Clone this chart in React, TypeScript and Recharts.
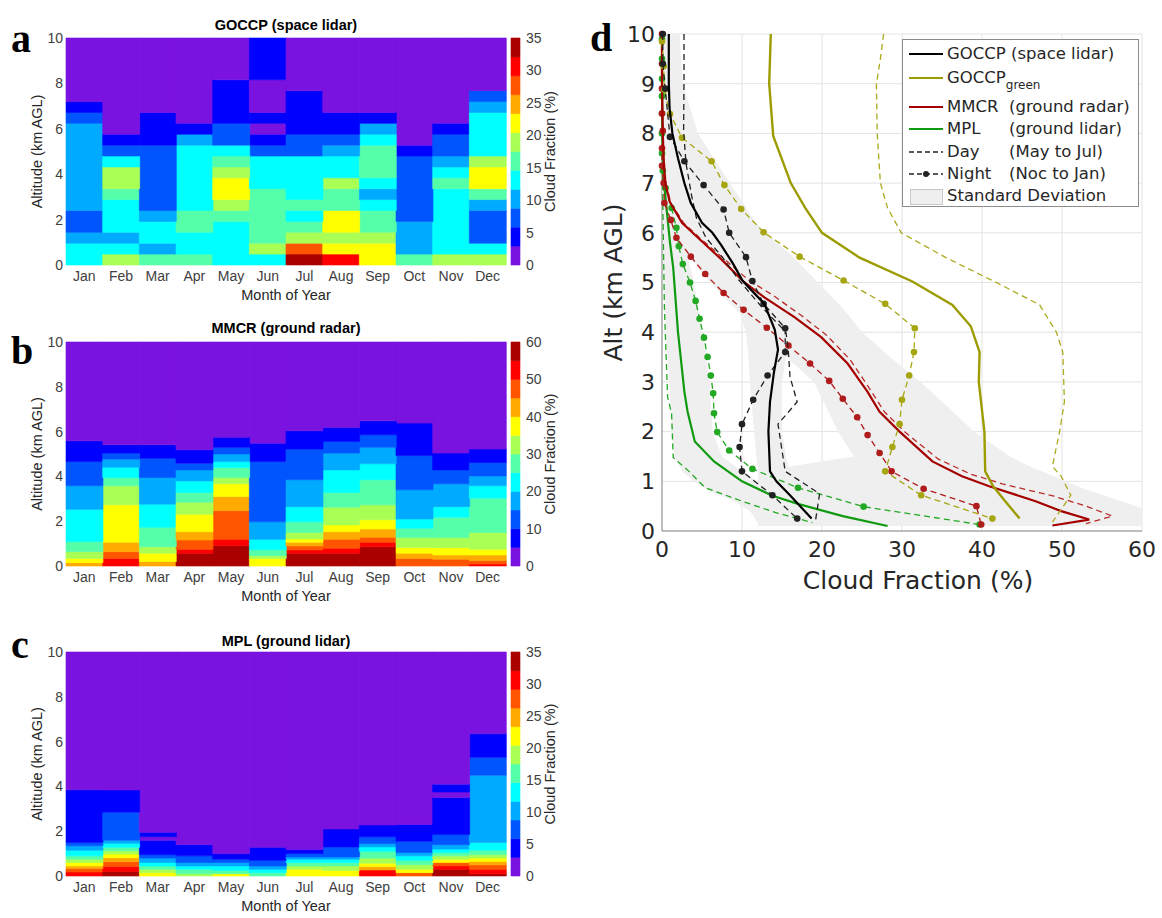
import { Bar, BarChart, CartesianGrid, Cell, Label, Legend, Scatter, ScatterChart, XAxis, YAxis } from "recharts"

const MONTHS = ["Jan", "Feb", "Mar", "Apr", "May", "Jun", "Jul", "Aug", "Sep", "Oct", "Nov", "Dec"]
const JET = ["#7a12e0", "#0000ff", "#0055ff", "#00aaff", "#00ffff", "#55ffaa", "#aaff55", "#ffff00", "#ffaa00", "#ff5500", "#ff0000", "#aa0000"]
const ALT_TICKS = [0, 2, 4, 6, 8, 10]
const CB_TICKS_35 = [0, 5, 10, 15, 20, 25, 30, 35]
const CB_TICKS_60 = [0, 10, 20, 30, 40, 50, 60]

// each month: [layer top (km), cloud fraction (%)], purple fills the rest up to 10 km
const GOCCP_COLS = [
  [[0.96, 13], [1.44, 10], [2.4, 7], [6.24, 10], [6.72, 7], [7.2, 4]],
  [[0.48, 19], [0.96, 13], [1.44, 10], [2.88, 13], [3.36, 16], [4.32, 19], [4.8, 13], [5.28, 7], [5.76, 4]],
  [[0.48, 16], [0.96, 10], [1.92, 13], [2.4, 10], [5.28, 7], [6.72, 4]],
  [[0.48, 16], [1.44, 13], [2.4, 16], [5.28, 13], [5.76, 10], [6.24, 4]],
  [[1.92, 13], [2.4, 16], [2.88, 19], [3.84, 22], [4.32, 19], [4.8, 16], [5.28, 13], [6.24, 7], [8.16, 4]],
  [[0.48, 13], [0.96, 19], [3.36, 16], [4.8, 13], [5.28, 7], [5.76, 4], [6.24, 1], [6.72, 4], [8.16, 1], [10, 4]],
  [[0.48, 34], [0.96, 28], [1.44, 19], [1.92, 16], [2.4, 13], [2.88, 16], [4.8, 13], [5.76, 7], [7.68, 4]],
  [[0.48, 31], [0.96, 22], [1.44, 19], [2.4, 22], [3.36, 16], [3.84, 19], [4.8, 13], [5.28, 10], [5.76, 7], [6.72, 4]],
  [[0.96, 22], [1.44, 19], [2.4, 16], [2.88, 13], [3.36, 10], [3.84, 13], [5.28, 16], [5.76, 13], [6.24, 10], [6.72, 4]],
  [[0.48, 16], [1.92, 10], [4.8, 7], [5.28, 4]],
  [[0.48, 19], [3.36, 13], [3.84, 16], [4.32, 13], [4.8, 10], [5.76, 7], [6.24, 4]],
  [[0.48, 19], [0.96, 13], [2.4, 7], [2.88, 10], [3.36, 16], [4.32, 22], [4.8, 19], [6.72, 13], [7.2, 10], [7.68, 7]],
]

const MMCR_COLS = [
  [[0.15, 42], [0.34, 37], [0.64, 32], [1.09, 27], [2.53, 22], [3.58, 17], [4.66, 12], [5.59, 7]],
  [[0.34, 52], [0.64, 47], [1.06, 42], [2.73, 37], [3.58, 32], [3.95, 27], [4.41, 22], [4.77, 17], [5.04, 12], [5.41, 7]],
  [[0.2, 42], [0.57, 37], [0.86, 32], [1.73, 27], [2.76, 22], [3.95, 17], [4.81, 12], [5.41, 7]],
  [[0.57, 57], [0.75, 52], [1.16, 47], [1.53, 42], [2.31, 37], [2.85, 32], [3.28, 27], [3.8, 22], [4.29, 17], [4.59, 12], [5.19, 7]],
  [[0.91, 57], [1.19, 52], [2.47, 47], [3.1, 42], [3.67, 37], [3.95, 32], [4.4, 27], [4.66, 22], [5.0, 17], [5.3, 12], [5.75, 7]],
  [[0.34, 37], [0.46, 32], [0.72, 27], [1.19, 22], [1.97, 17], [4.66, 12], [5.48, 7]],
  [[0.57, 57], [0.72, 52], [0.89, 47], [1.06, 42], [1.21, 37], [1.5, 32], [1.97, 27], [2.65, 22], [3.85, 17], [5.22, 12], [6.04, 7]],
  [[0.57, 57], [0.79, 52], [1.19, 47], [1.53, 42], [1.83, 37], [2.62, 32], [3.28, 27], [4.29, 22], [5.04, 17], [5.56, 12], [6.18, 7]],
  [[0.86, 57], [1.06, 52], [1.28, 47], [1.65, 42], [2.06, 37], [2.73, 32], [3.85, 27], [4.56, 22], [5.3, 17], [5.86, 12], [6.48, 7]],
  [[0.34, 47], [0.57, 42], [0.83, 37], [1.27, 32], [1.68, 27], [2.1, 22], [3.4, 17], [4.93, 12], [6.38, 7]],
  [[0.3, 47], [0.49, 42], [0.82, 37], [1.27, 32], [2.18, 27], [2.65, 22], [3.67, 17], [4.29, 12], [5.04, 7]],
  [[0.09, 52], [0.24, 47], [0.49, 42], [0.75, 37], [1.5, 32], [3.03, 27], [3.58, 22], [4.02, 17], [4.62, 12], [5.22, 7]],
]

const MPL_COLS = [
  [[0.18, 31], [0.33, 28], [0.45, 25], [0.6, 22], [0.75, 19], [0.9, 16], [1.15, 13], [1.35, 10], [1.5, 7], [3.85, 4]],
  [[0.2, 34], [0.42, 31], [0.64, 28], [0.82, 25], [0.98, 22], [1.13, 19], [1.28, 16], [1.46, 13], [1.6, 10], [2.85, 7], [3.84, 4]],
  [[0.15, 22], [0.3, 19], [0.45, 16], [0.6, 13], [0.8, 10], [0.95, 7], [1.6, 4], [1.75, 1], [1.95, 4]],
  [[0.1, 19], [0.3, 16], [0.45, 13], [0.6, 10], [0.9, 7], [1.4, 4]],
  [[0.1, 22], [0.25, 16], [0.45, 13], [0.6, 10], [0.75, 7], [1.0, 4]],
  [[0.15, 16], [0.3, 13], [0.45, 10], [0.7, 7], [1.28, 4]],
  [[0.3, 22], [0.45, 19], [0.6, 16], [0.75, 13], [0.85, 10], [1.0, 7], [1.18, 4]],
  [[0.25, 22], [0.45, 19], [0.6, 16], [0.75, 13], [0.85, 10], [1.3, 7], [2.1, 4]],
  [[0.27, 31], [0.42, 25], [0.57, 22], [0.8, 19], [1.1, 16], [1.3, 13], [1.45, 10], [1.75, 7], [2.28, 4]],
  [[0.15, 28], [0.3, 22], [0.5, 19], [0.7, 16], [0.9, 13], [1.05, 10], [1.55, 7], [2.3, 4]],
  [[0.3, 34], [0.45, 31], [0.6, 28], [0.75, 22], [0.9, 19], [1.05, 16], [1.2, 13], [1.4, 10], [1.85, 7], [3.5, 4], [3.75, 1], [4.1, 4]],
  [[0.1, 34], [0.3, 31], [0.5, 28], [0.65, 25], [0.8, 22], [0.95, 19], [1.15, 16], [1.5, 13], [4.5, 10], [5.3, 7], [6.35, 4]],
]

// panel d profiles: [cloud fraction (%), altitude (km)]
const GOCCP_MEAN = [[0.85, 10], [0.85, 9], [0.95, 8.5], [1.3, 8], [2, 7.5], [2.8, 7], [3.6, 6.6], [5, 6.2], [6.3, 6], [7.4, 5.75], [8.8, 5.4], [10.1, 5.03], [12.8, 4.57], [14.1, 4.05], [14.5, 3.65], [14, 3.2], [13.5, 2.6], [13.3, 2], [13.5, 1.2], [14.3, 1], [16, 0.72], [18.7, 0.25]]
const GOCCP_DAY = [[2.75, 10], [2.75, 9], [2.7, 8.05], [3, 7.4], [3.7, 6.75], [4.3, 6.3], [5.5, 5.9], [7.6, 5.5], [9.6, 5.05], [12.5, 4.5], [15.5, 4], [15.8, 3.6], [16, 3.1], [16.9, 2.6], [14.5, 2.15], [15.4, 1.2], [19.7, 0.75], [19.2, 0.22]]
const GOCCP_NIGHT = [[0.1, 10], [0.1, 9.4], [0.4, 8.9], [1, 7.93], [2.8, 7.44], [5.2, 6.96], [7.7, 6.47], [8.4, 6], [10.5, 5.51], [11.3, 5.03], [12.7, 4.57], [15.4, 4.08], [15.4, 3.6], [13.2, 3.13], [11.4, 2.64], [10, 2.15], [9.7, 1.69], [10, 1.2], [13.8, 0.72], [16.9, 0.25]]
const GREEN_MEAN = [[13.6, 10], [13.4, 9], [13.9, 7.95], [16.1, 7], [17.9, 6.5], [20, 6], [24.7, 5.5], [31.3, 5.02], [36.3, 4.55], [38.6, 4.12], [39.7, 3.6], [39.6, 3], [40.3, 2], [40.4, 1.2], [41.4, 0.9], [42.9, 0.6], [44.7, 0.25]]
const GREEN_DAY = [[27.7, 10], [27.3, 9.5], [26.8, 9], [26.9, 8], [27.3, 7], [28.2, 6.5], [29.9, 6], [35.5, 5.5], [41.8, 5], [47.2, 4.55], [49.3, 4], [50.1, 3.6], [50.3, 2.6], [49.7, 2], [48.8, 1.3], [49.9, 1.1], [51.1, 0.72], [48.8, 0.18]]
const GREEN_NIGHT = [[0, 9.85], [0.2, 9.35], [0.3, 8.88], [1, 8.39], [2.5, 7.91], [6.2, 7.44], [7.8, 6.96], [9.9, 6.48], [12.7, 6.01], [17.2, 5.52], [22.7, 5.04], [27.9, 4.57], [31.6, 4.08], [31.5, 3.6], [30.9, 3.13], [30, 2.64], [29.7, 2.15], [28.8, 1.69], [27.9, 1.2], [32.4, 0.72], [41.3, 0.25]]
const MMCR_MEAN = [[0, 10], [0, 9], [0.05, 8.5], [0.1, 8], [0.2, 7.5], [0.4, 7], [0.96, 6.63], [2.5, 6.2], [4.5, 5.9], [7.4, 5.47], [10.1, 5.03], [12.8, 4.7], [16.6, 4.3], [19.9, 3.9], [23.2, 3.37], [25.7, 2.8], [27.2, 2.4], [29.7, 2], [33.8, 1.4], [37.5, 1.1], [40.9, 0.9], [46.7, 0.6], [49.9, 0.4], [53.4, 0.23], [48.8, 0.11]]
const MMCR_DAY = [[0, 10], [0.05, 8.5], [0.2, 7.5], [0.5, 7], [1.1, 6.6], [2.7, 6.2], [4.7, 5.9], [7.8, 5.47], [10.8, 5.05], [13.8, 4.75], [17.3, 4.35], [20.5, 3.95], [23.5, 3.45], [25.8, 2.9], [27.8, 2.4], [30.3, 2], [34.5, 1.45], [38.5, 1.15], [42.5, 0.95], [49, 0.7], [53, 0.5], [56.3, 0.3], [53, 0.15]]
const MMCR_NIGHT = [[0, 10], [0, 9.4], [0, 8.9], [0, 8.4], [0.1, 8.05], [0, 7.7], [0, 7.35], [0.2, 7], [0.3, 6.6], [1.1, 6.26], [1.8, 5.9], [3.6, 5.52], [5.4, 5.17], [7.7, 4.79], [10.2, 4.45], [13.1, 4.09], [15.8, 3.73], [18.5, 3.37], [20.9, 3.02], [22.6, 2.66], [24.4, 2.29], [25.7, 1.93], [27.2, 1.57], [28.7, 1.2], [32.7, 0.85], [39.3, 0.5], [39.9, 0.13]]
const MPL_MEAN = [[0, 10], [0, 9], [0.05, 8], [0.25, 7], [0.5, 6.6], [1, 5.8], [1.4, 5.3], [2, 4], [2.8, 2.8], [3.2, 2.4], [4.1, 1.8], [6.5, 1.4], [10, 1], [13.8, 0.71], [17.1, 0.54], [22.6, 0.3], [28.2, 0.1]]
const MPL_DAY = [[0, 10], [0, 8], [0.1, 6.6], [0.3, 4.5], [0.7, 2.7], [1.2, 2.36], [1.4, 1.48], [3.3, 1.21], [5.4, 0.87], [10, 0.6], [14.2, 0.37], [18.8, 0.17]]
const MPL_NIGHT = [[0, 9.9], [0, 9.5], [0, 9.1], [0, 8.75], [0, 8.4], [0, 8], [0, 7.6], [0.1, 7.25], [0.45, 6.9], [1.2, 6.5], [1.8, 6.1], [2.1, 5.73], [2.6, 5.37], [3.5, 5], [4.2, 4.63], [4.7, 4.27], [5.25, 3.89], [5.7, 3.5], [6.1, 3.13], [6.4, 2.77], [6.5, 2.37], [6.9, 1.99], [8.4, 1.62], [11.3, 1.25], [17, 0.87], [25.2, 0.49], [39.7, 0.13]]

// standard deviation envelopes: [altitude, low, high]
const GOCCP_SD = [[10, 0, 2.2], [9, 0, 2.6], [8, 0.2, 4.5], [7, 0.8, 8.5], [6, 2.5, 12.5], [5.5, 4.5, 15], [5, 6.5, 17], [4.5, 9.5, 17], [4, 10.5, 16], [3.5, 10.8, 15.5], [3, 11, 15], [2, 11.5, 15], [1.5, 11.8, 15.5], [1.2, 12, 16], [1, 12, 19], [0.5, 12, 20], [0.15, 12, 20]]
const MMCR_SD = [[10, 0, 0.5], [8, 0, 1], [7, 0.1, 4], [6.63, 0.3, 9.1], [6, 1.5, 13], [5.5, 3.5, 16.5], [5, 6, 19.5], [4.5, 9, 22.5], [4, 12, 25], [3.5, 15.5, 28.5], [3, 19, 32.3], [2.5, 20.5, 35.7], [2, 22, 39], [1.5, 24, 43.5], [1.3, 16, 46], [1, 14, 50.5], [0.87, 13, 52.4], [0.46, 12, 60], [0.1, 12, 60]]
const MPL_SD = [[10, 0, 0.3], [8, 0, 0.6], [7, 0, 1.2], [6, 0.1, 2.5], [5, 0.2, 4], [4, 0.5, 5], [3, 0.9, 6], [2, 1.2, 6.3], [1.5, 1.6, 7.5], [1.2, 2.5, 10], [1, 4, 12], [0.8, 6, 14], [0.6, 9, 17], [0.4, 11, 22], [0.15, 12, 28]]

const CF_TICKS = [0, 10, 20, 30, 40, 50, 60]
const KM_TICKS = [0, 1, 2, 3, 4, 5, 6, 7, 8, 9, 10]

const BLACK = "#000000"
const OLIVE = "#9c9c00"
const RED = "#a50000"
const GREEN = "#109a10"
const SD_FILL = "#efefef"

const SANS = "'Liberation Sans', Arial, sans-serif"
const DJV = "'DejaVu Sans', sans-serif"

function colorOf(v: number, max: number) {
  const i = Math.min(11, Math.max(0, Math.floor(v / (max / 12))))
  return JET[i]
}

function buildRows(cols: number[][][], max: number) {
  const full = cols.map((segs) => (segs[segs.length - 1][0] < 10 ? [...segs, [10, 0.5]] : segs))
  const n = Math.max(...full.map((s) => s.length))
  const rows = full.map((segs, i) => {
    const row: any = { month: MONTHS[i] }
    let prev = 0
    for (let k = 0; k < n; k++) {
      if (k < segs.length) {
        row[`h${k}`] = segs[k][0] - prev
        prev = segs[k][0]
      } else row[`h${k}`] = 0
    }
    return row
  })
  const colors = full.map((segs) => segs.map((s) => colorOf(s[1], max)))
  return { rows, colors, n }
}

function Heatmap({ cols, max, cbTicks, title, letter, top, plotH, titleY, letterTop }: any) {
  const { rows, colors, n } = buildRows(cols, max)
  const H = plotH + 83
  const cbRow: any = { name: "cb" }
  JET.forEach((_, k) => (cbRow[`l${k}`] = max / 12))
  return (
    <div style={{ position: "absolute", left: 0, top, width: 590, height: H }}>
      <div style={{ position: "absolute", left: 11, top: letterTop, fontFamily: "'Liberation Serif', serif", fontWeight: "bold", fontSize: 40, lineHeight: "normal" }}>
        {letter}
      </div>
      <div style={{ position: "absolute", left: 66, width: 440, top: titleY - 9, textAlign: "center", fontFamily: SANS, fontWeight: "bold", fontSize: 14.5, lineHeight: "18px", color: "#000" }}>
        {title}
      </div>
      <div style={{ position: "absolute", left: 0, top: 0 }}>
        <BarChart width={510} height={H} data={rows} margin={{ top: 38, right: 4, left: 30, bottom: 20 }} barCategoryGap={0} barGap={0}>
          <XAxis dataKey="month" interval={0} height={25} tickLine={false} axisLine={false} tickSize={4} tickMargin={2} tick={{ fontSize: 14, fill: "#404040", fontFamily: SANS }}>
            <Label value="Month of Year" position="bottom" offset={0} style={{ fontSize: 14.5, fill: "#262626", fontFamily: SANS }} />
          </XAxis>
          <YAxis type="number" domain={[0, 10]} ticks={ALT_TICKS} width={36} tickLine={false} axisLine={false} tickSize={2} tickMargin={1} tick={{ fontSize: 14, fill: "#404040", fontFamily: SANS }}>
            <Label value="Altitude (km AGL)" angle={-90} position="insideLeft" offset={7} style={{ fontSize: 14.5, fill: "#262626", fontFamily: SANS, textAnchor: "middle" }} />
          </YAxis>
          {Array.from({ length: n }, (_, k) => (
            <Bar key={k} dataKey={`h${k}`} stackId="s" isAnimationActive={false}>
              {rows.map((_, i) => {
                const c = colors[i][k] || "none"
                return <Cell key={i} fill={c} stroke={c} strokeWidth={0.6} />
              })}
            </Bar>
          ))}
        </BarChart>
      </div>
      <div style={{ position: "absolute", left: 500, top: 0 }}>
        <BarChart width={70} height={H} data={[cbRow]} margin={{ top: 38, right: 20, left: 11, bottom: 45 }} barCategoryGap={0}>
          <XAxis dataKey="name" hide />
          <YAxis orientation="right" type="number" domain={[0, max]} ticks={cbTicks} width={30} tickLine={false} axisLine={false} tickSize={4} tickMargin={2} tick={{ fontSize: 14, fill: "#404040", fontFamily: SANS, textAnchor: "start" }}>
            <Label value="Cloud Fraction (%)" angle={-90} position="insideRight" offset={0} style={{ fontSize: 14.5, fill: "#262626", fontFamily: SANS, textAnchor: "middle" }} />
          </YAxis>
          {JET.map((c, k) => (
            <Bar key={k} dataKey={`l${k}`} stackId="c" fill={c} stroke={c} strokeWidth={0.6} isAnimationActive={false} />
          ))}
        </BarChart>
      </div>
    </div>
  )
}

const toPts = (arr: number[][]) => arr.map(([x, y]) => ({ x, y }))
const bandPts = (band: number[][]) => [
  ...band.map((b) => ({ x: b[2], y: b[0] })),
  ...band.slice().reverse().map((b) => ({ x: b[1], y: b[0] })),
]

const SERIES = [
  { key: "mpl-day", pts: MPL_DAY, color: "#22a822", w: 1.3, dash: "6 4", dots: false },
  { key: "mpl-night", pts: MPL_NIGHT, color: "#22a822", w: 1.3, dash: "6 4", dots: true },
  { key: "mpl", pts: MPL_MEAN, color: GREEN, w: 2.2, dash: undefined, dots: false },
  { key: "mmcr-day", pts: MMCR_DAY, color: "#bb2a2a", w: 1.3, dash: "6 4", dots: false },
  { key: "mmcr-night", pts: MMCR_NIGHT, color: "#b01c1c", w: 1.3, dash: "6 4", dots: true },
  { key: "mmcr", pts: MMCR_MEAN, color: RED, w: 2.2, dash: undefined, dots: false },
  { key: "green-day", pts: GREEN_DAY, color: "#aaaa1c", w: 1.3, dash: "6 4", dots: false },
  { key: "green-night", pts: GREEN_NIGHT, color: "#a6a612", w: 1.3, dash: "6 4", dots: true },
  { key: "green", pts: GREEN_MEAN, color: OLIVE, w: 2.4, dash: undefined, dots: false },
  { key: "goccp-day", pts: GOCCP_DAY, color: "#222222", w: 1.3, dash: "6 4", dots: false },
  { key: "goccp-night", pts: GOCCP_NIGHT, color: "#222222", w: 1.3, dash: "6 4", dots: true },
  { key: "goccp", pts: GOCCP_MEAN, color: BLACK, w: 2.2, dash: undefined, dots: false },
]

const LEGEND_ROWS = [
  { y: 14, color: BLACK, dash: undefined, dot: false, name: "GOCCP (space lidar)", desc: "" },
  { y: 38, color: OLIVE, dash: undefined, dot: false, name: "GOCCP", desc: "", sub: "green" },
  { y: 67, color: RED, dash: undefined, dot: false, name: "MMCR", desc: "(ground radar)" },
  { y: 89, color: GREEN, dash: undefined, dot: false, name: "MPL", desc: "(ground lidar)" },
  { y: 112, color: "#222", dash: "5 3", dot: false, name: "Day", desc: "(May to Jul)" },
  { y: 134, color: "#222", dash: "5 3", dot: true, name: "Night", desc: "(Noc to Jan)" },
]

function LegendBox() {
  return (
    <div style={{ position: "relative", width: 237, height: 168, border: "1px solid #8c8c8c", boxSizing: "border-box", background: "#fff", fontFamily: DJV, fontSize: 16.5, color: "#262626" }}>
      {LEGEND_ROWS.map((r: any) => (
        <div key={r.y} style={{ position: "absolute", left: 0, top: r.y - 11, height: 22, width: 235 }}>
          <svg width={36} height={22} style={{ position: "absolute", left: 5, top: 0 }}>
            <line x1={1} y1={11} x2={35} y2={11} stroke={r.color} strokeWidth={r.dash ? 1.3 : 2.2} strokeDasharray={r.dash} />
            {r.dot && <circle cx={18} cy={11} r={3} fill={r.color} />}
          </svg>
          <span style={{ position: "absolute", left: 44, top: 0, lineHeight: "22px", whiteSpace: "nowrap" }}>
            {r.name}
            {r.sub && <span style={{ fontSize: 12, position: "relative", top: 6 }}>{r.sub}</span>}
          </span>
          {r.desc && <span style={{ position: "absolute", left: 106, top: 0, lineHeight: "22px", whiteSpace: "nowrap" }}>{r.desc}</span>}
        </div>
      ))}
      <div style={{ position: "absolute", left: 0, top: 145, height: 22, width: 235 }}>
        <div style={{ position: "absolute", left: 7, top: 4, width: 31, height: 14, background: SD_FILL, border: "1px solid #c8c8c8" }} />
        <span style={{ position: "absolute", left: 44, top: 0, lineHeight: "22px", whiteSpace: "nowrap" }}>Standard Deviation</span>
      </div>
    </div>
  )
}

function Profiles() {
  const noDot = () => <g />
  return (
    <div style={{ position: "absolute", left: 590, top: 0 }}>
      <div style={{ position: "absolute", left: 0, top: 14, fontFamily: "'Liberation Serif', serif", fontWeight: "bold", fontSize: 40, lineHeight: "normal", zIndex: 2 }}>
        d
      </div>
      <ScatterChart width={572} height={610} margin={{ top: 34, right: 20, left: 12, bottom: 39 }}>
        <CartesianGrid stroke="#e3e3e3" />
        <XAxis type="number" dataKey="x" domain={[0, 60]} ticks={CF_TICKS} height={40} tickLine={false} tickSize={6} tickMargin={4} axisLine={{ stroke: "#8a8a8a" }} tick={{ fontSize: 22, fill: "#262626", fontFamily: DJV }}>
          <Label value="Cloud Fraction (%)" position="bottom" offset={0} dx={16} style={{ fontSize: 25, fill: "#262626", fontFamily: DJV }} />
        </XAxis>
        <YAxis type="number" dataKey="y" domain={[0, 10]} ticks={KM_TICKS} width={60} tickLine={false} tickSize={4} tickMargin={3} axisLine={{ stroke: "#8a8a8a" }} tick={{ fontSize: 22, fill: "#262626", fontFamily: DJV }}>
          <Label value="Alt (km AGL)" angle={-90} position="insideLeft" offset={11} style={{ fontSize: 25, fill: "#262626", fontFamily: DJV, textAnchor: "middle" }} />
        </YAxis>
        <XAxis xAxisId="top" orientation="top" type="number" domain={[0, 60]} ticks={CF_TICKS} height={0} tick={false} tickLine={false} axisLine={{ stroke: "#8a8a8a" }} />
        <YAxis yAxisId="right" orientation="right" type="number" domain={[0, 10]} ticks={KM_TICKS} width={0} tick={false} tickLine={false} axisLine={{ stroke: "#8a8a8a" }} />
        {[GOCCP_SD, MMCR_SD, MPL_SD].map((band, i) => (
          <Scatter key={`sd${i}`} data={bandPts(band)} shape={noDot} line={{ fill: SD_FILL, stroke: "none" }} isAnimationActive={false} legendType="none" />
        ))}
        {SERIES.map((s) => (
          <Scatter
            key={s.key}
            data={toPts(s.pts)}
            isAnimationActive={false}
            legendType="none"
            line={{ stroke: s.color, strokeWidth: s.w, strokeDasharray: s.dash, fill: "none" }}
            shape={s.dots ? (p: any) => <circle cx={p.cx} cy={p.cy} r={3.3} fill={s.color} /> : noDot}
          />
        ))}
        <Legend layout="horizontal" verticalAlign="middle" align="center" content={() => <LegendBox />} wrapperStyle={{ left: 312, top: 39, width: 237, height: 168 }} />
      </ScatterChart>
    </div>
  )
}

export default function App() {
  return (
    <div style={{ position: "absolute", left: 0, top: 0, width: 1162, height: 918, overflow: "hidden", background: "#fff" }}>
      <Heatmap cols={GOCCP_COLS} max={35} cbTicks={CB_TICKS_35} title="GOCCP (space lidar)" letter="a" top={0} plotH={227} titleY={25} letterTop={15} />
      <Heatmap cols={MMCR_COLS} max={60} cbTicks={CB_TICKS_60} title="MMCR (ground radar)" letter="b" top={304} plotH={224} titleY={24} letterTop={23} />
      <Heatmap cols={MPL_COLS} max={35} cbTicks={CB_TICKS_35} title="MPL (ground lidar)" letter="c" top={614} plotH={224} titleY={27} letterTop={7} />
      <Profiles />
    </div>
  )
}
